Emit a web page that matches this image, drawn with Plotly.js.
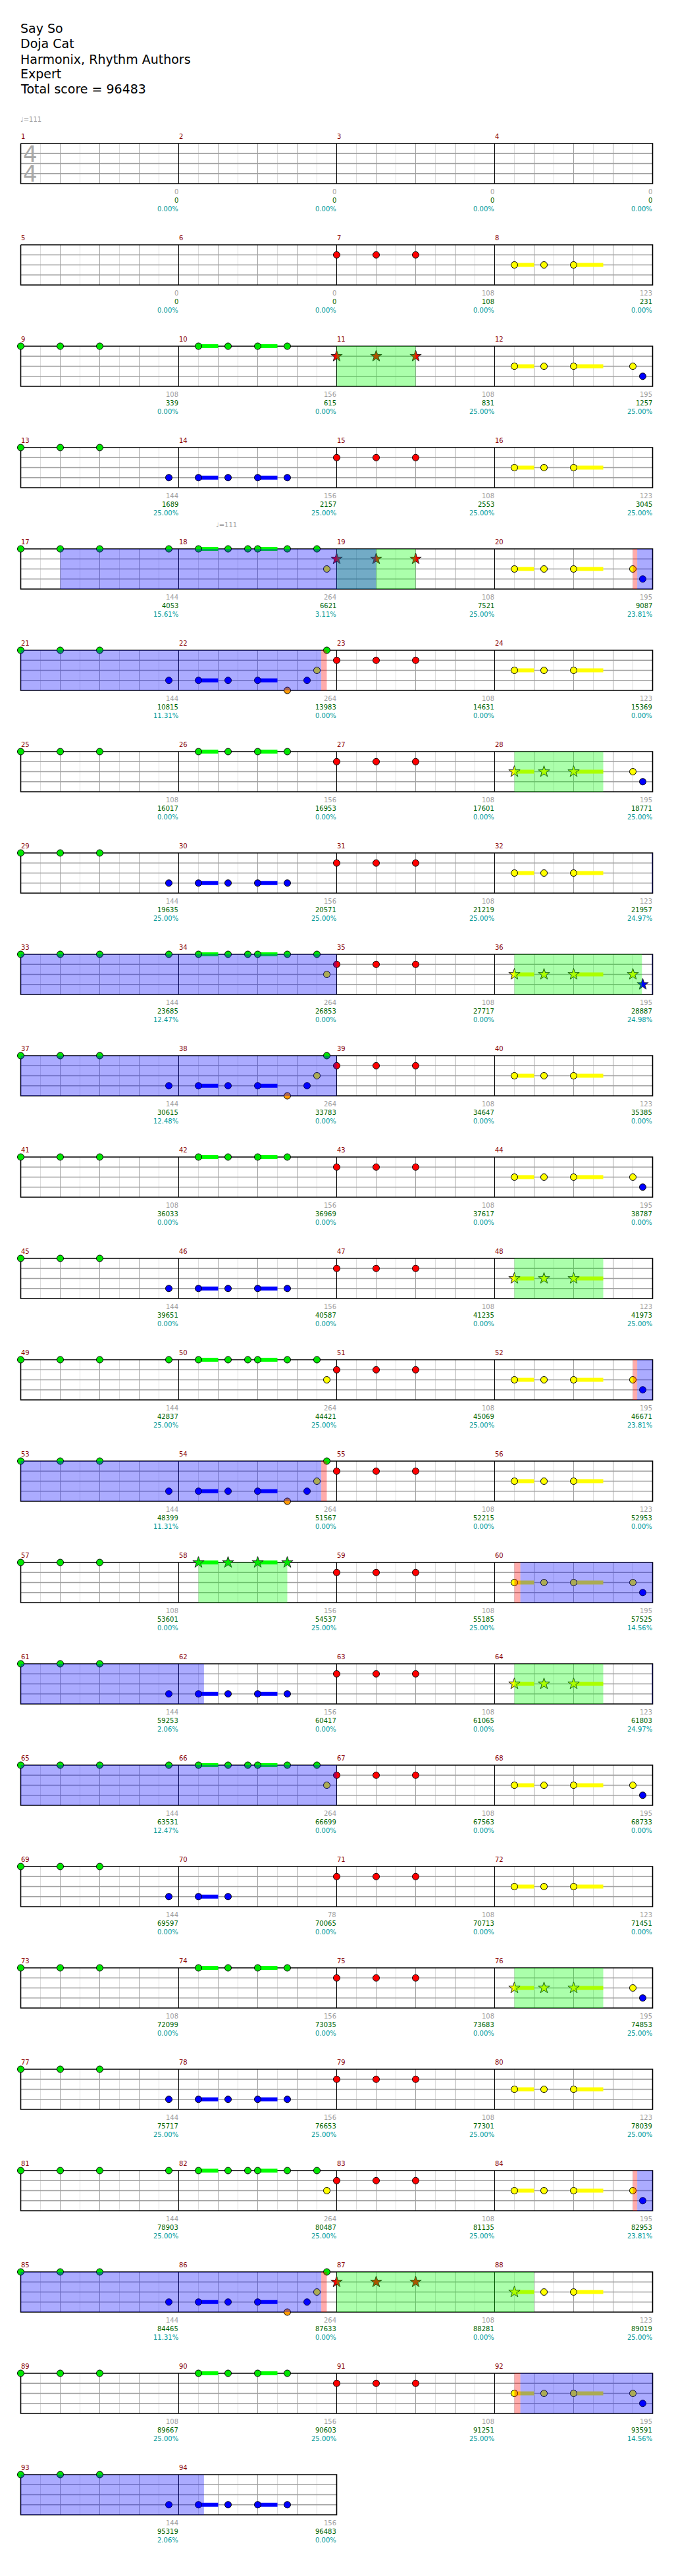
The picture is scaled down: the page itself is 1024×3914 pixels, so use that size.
<!DOCTYPE html>
<html><head><meta charset="utf-8">
<script src="https://cdn.plot.ly/plotly-3.0.1.min.js"></script>
<style>html,body{margin:0;padding:0;background:#fff}#chart{width:1024px;height:3914px}</style>
</head><body><div id="chart"></div>
<script>
// ---------------- DATA ----------------
const titleLines = ["Say So", "Doja Cat", "Harmonix, Rhythm Authors", "Expert", "Total score = 96483"];
const timeSignature = [4, 4];
// tempo marks: [measure, beat, bpm]
const tempoMarks = [[1, 0, 111], [18, 0.96, 111]];

// notes per measure: lane letter (G R Y B O), '*' = star note, beat, optional "-end" sustain end beat
const measureNotes = [
  "", "", "", "",
  "", "", "R0 R1 R2", "Y0.5-1 Y1.25 Y2-2.75",
  "G0 G1 G2", "G0.5-1 G1.25 G2-2.5 G2.75", "R*0 R*1 R*2", "Y0.5-1 Y1.25 Y2-2.75 Y3.5 B3.75",
  "G0 G1 G2 B3.75", "B0.5-1 B1.25 B2-2.5 B2.75", "R0 R1 R2", "Y0.5-1 Y1.25 Y2-2.75",
  "G0 G1 G2 G3.75", "G0.5-1 G1.25 G1.75 G2-2.5 G2.75 G3.5 Y3.75", "R*0 R*1 R*2", "Y0.5-1 Y1.25 Y2-2.75 Y3.5 B3.75",
  "G0 G1 G2 B3.75", "B0.5-1 B1.25 B2-2.5 O2.75 B3.25 Y3.5 G3.75", "R0 R1 R2", "Y0.5-1 Y1.25 Y2-2.75",
  "G0 G1 G2", "G0.5-1 G1.25 G2-2.5 G2.75", "R0 R1 R2", "Y*0.5-1 Y*1.25 Y*2-2.75 Y3.5 B3.75",
  "G0 G1 G2 B3.75", "B0.5-1 B1.25 B2-2.5 B2.75", "R0 R1 R2", "Y0.5-1 Y1.25 Y2-2.75",
  "G0 G1 G2 G3.75", "G0.5-1 G1.25 G1.75 G2-2.5 G2.75 G3.5 Y3.75", "R0 R1 R2", "Y*0.5-1 Y*1.25 Y*2-2.75 Y*3.5 B*3.75",
  "G0 G1 G2 B3.75", "B0.5-1 B1.25 B2-2.5 O2.75 B3.25 Y3.5 G3.75", "R0 R1 R2", "Y0.5-1 Y1.25 Y2-2.75",
  "G0 G1 G2", "G0.5-1 G1.25 G2-2.5 G2.75", "R0 R1 R2", "Y0.5-1 Y1.25 Y2-2.75 Y3.5 B3.75",
  "G0 G1 G2 B3.75", "B0.5-1 B1.25 B2-2.5 B2.75", "R0 R1 R2", "Y*0.5-1 Y*1.25 Y*2-2.75",
  "G0 G1 G2 G3.75", "G0.5-1 G1.25 G1.75 G2-2.5 G2.75 G3.5 Y3.75", "R0 R1 R2", "Y0.5-1 Y1.25 Y2-2.75 Y3.5 B3.75",
  "G0 G1 G2 B3.75", "B0.5-1 B1.25 B2-2.5 O2.75 B3.25 Y3.5 G3.75", "R0 R1 R2", "Y0.5-1 Y1.25 Y2-2.75",
  "G0 G1 G2", "G*0.5-1 G*1.25 G*2-2.5 G*2.75", "R0 R1 R2", "Y0.5-1 Y1.25 Y2-2.75 Y3.5 B3.75",
  "G0 G1 G2 B3.75", "B0.5-1 B1.25 B2-2.5 B2.75", "R0 R1 R2", "Y*0.5-1 Y*1.25 Y*2-2.75",
  "G0 G1 G2 G3.75", "G0.5-1 G1.25 G1.75 G2-2.5 G2.75 G3.5 Y3.75", "R0 R1 R2", "Y0.5-1 Y1.25 Y2-2.75 Y3.5 B3.75",
  "G0 G1 G2 B3.75", "B0.5-1 B1.25", "R0 R1 R2", "Y0.5-1 Y1.25 Y2-2.75",
  "G0 G1 G2", "G0.5-1 G1.25 G2-2.5 G2.75", "R0 R1 R2", "Y*0.5-1 Y*1.25 Y*2-2.75 Y3.5 B3.75",
  "G0 G1 G2 B3.75", "B0.5-1 B1.25 B2-2.5 B2.75", "R0 R1 R2", "Y0.5-1 Y1.25 Y2-2.75",
  "G0 G1 G2 G3.75", "G0.5-1 G1.25 G1.75 G2-2.5 G2.75 G3.5 Y3.75", "R0 R1 R2", "Y0.5-1 Y1.25 Y2-2.75 Y3.5 B3.75",
  "G0 G1 G2 B3.75", "B0.5-1 B1.25 B2-2.5 O2.75 B3.25 Y3.5 G3.75", "R*0 R*1 R*2", "Y*0.5-1 Y1.25 Y2-2.75",
  "G0 G1 G2", "G0.5-1 G1.25 G2-2.5 G2.75", "R0 R1 R2", "Y0.5-1 Y1.25 Y2-2.75 Y3.5 B3.75",
  "G0 G1 G2 B3.75", "B0.5-1 B1.25 B2-2.5 B2.75"
];

const measureScore = [
  0,0,0,0, 0,0,108,123, 108,156,108,195, 144,156,108,123,
  144,264,108,195, 144,264,108,123, 108,156,108,195, 144,156,108,123,
  144,264,108,195, 144,264,108,123, 108,156,108,195, 144,156,108,123,
  144,264,108,195, 144,264,108,123, 108,156,108,195, 144,156,108,123,
  144,264,108,195, 144,78,108,123, 108,156,108,195, 144,156,108,123,
  144,264,108,195, 144,264,108,123, 108,156,108,195, 144,156
];
const cumulativeScore = [
  0,0,0,0, 0,0,108,231, 339,615,831,1257, 1689,2157,2553,3045,
  4053,6621,7521,9087, 10815,13983,14631,15369, 16017,16953,17601,18771, 19635,20571,21219,21957,
  23685,26853,27717,28887, 30615,33783,34647,35385, 36033,36969,37617,38787, 39651,40587,41235,41973,
  42837,44421,45069,46671, 48399,51567,52215,52953, 53601,54537,55185,57525, 59253,60417,61065,61803,
  63531,66699,67563,68733, 69597,70065,70713,71451, 72099,73035,73683,74853, 75717,76653,77301,78039,
  78903,80487,81135,82953, 84465,87633,88281,89019, 89667,90603,91251,93591, 95319,96483
];
const starPercent = [
  0,0,0,0, 0,0,0,0, 0,0,25,25, 25,25,25,25,
  15.61,3.11,25,23.81, 11.31,0,0,0, 0,0,0,25, 25,25,25,24.97,
  12.47,0,0,24.98, 12.48,0,0,0, 0,0,0,0, 0,0,0,25,
  25,25,25,23.81, 11.31,0,0,0, 0,25,25,14.56, 2.06,0,0,24.97,
  12.47,0,0,0, 0,0,0,0, 0,0,0,25, 25,25,25,25,
  25,25,25,23.81, 11.31,0,0,25, 25,25,25,14.56, 2.06,0
];

// star-power phrases (green), activations (blue), activation marks (red): [m0, beat0, m1, beat1]
const spPhrases = [[11,0,11,2],[19,0,19,2],[28,0.5,28,2.75],[36,0.5,36,3.73],[48,0.5,48,2.75],
                   [58,0.5,58,2.75],[64,0.5,64,2.75],[76,0.5,76,2.75],[87,0,88,1]];
const activations = [[17,1,19,1],[20,3.61,22,3.61],[32,3.98,35,0],[36,3.98,39,0],[52,3.61,54,3.61],
                     [60,0.65,62,0.64],[64,3.98,67,0],[84,3.61,86,3.61],[92,0.65,94,0.64]];
const activationMarks = [[20,3.5,20,3.61],[22,3.61,22,3.75],[52,3.5,52,3.61],[54,3.61,54,3.75],
                         [60,0.5,60,0.65],[84,3.5,84,3.61],[86,3.61,86,3.75],[92,0.5,92,0.65]];

// ---------------- GEOMETRY / STYLE ----------------
const W = 1024, H = 3914;
const PX_TOP = 218, LANE_PX = 15.25, ROW_PX = 154, BEAT_PX = 60, LEFT_PX = 31.5;
const ROWU = ROW_PX / LANE_PX;
const MPR = 4, BPM_ = 4;
const nMeasures = measureNotes.length;
const nRows = Math.ceil(nMeasures / MPR);
const off = p => p / LANE_PX; // pixel offset -> lane units
const FONT = 'DejaVu Sans';
const laneFill = ['#00e600', '#ff0000', '#ffff00', '#0000ff', '#ff9900'];
const laneSus = ['#00ff00', '#ff0000', '#ffff00', '#0000ff', '#ff9900'];

function rowOf(m) { return Math.floor((m - 1) / MPR); }
function xOf(m, b) { return ((m - 1) % MPR) * BPM_ + b; }

// ---------------- GRID ----------------
const light = {x: [], y: []}, beatL = {x: [], y: []}, measL = {x: [], y: []}, hor = {x: [], y: []}, border = {x: [], y: []};
function vline(o, x, y0, y1) { o.x.push(x, x, null); o.y.push(y0, y1, null); }
for (let r = 0; r < nRows; r++) {
  const nm = Math.min(MPR, nMeasures - r * MPR);
  const top = r * ROWU, bot = top + 4, right = nm * BPM_;
  for (let m = 0; m < nm; m++) {
    for (let k = 0; k < BPM_; k++) vline(light, m * BPM_ + k + 0.5, top, bot);
    for (let k = 1; k < BPM_; k++) vline(beatL, m * BPM_ + k, top, bot);
    if (m > 0) vline(measL, m * BPM_, top, bot);
  }
  for (let l = 1; l < 4; l++) { hor.x.push(0, right, null); hor.y.push(top + l, top + l, null); }
  border.x.push(0, right, right, 0, 0, null); border.y.push(top, top, bot, bot, top, null);
}
const lineTrace = (o, color, width) => ({type: 'scatter', mode: 'lines', x: o.x, y: o.y,
  line: {color, width}, hoverinfo: 'skip', connectgaps: false});
const traces = [
  lineTrace(light, '#dcdcdc', 1),
  lineTrace(beatL, '#a0a0a0', 1),
  lineTrace(hor, '#a0a0a0', 1.3),
  lineTrace(measL, '#000000', 1),
  lineTrace(border, '#000000', 1.6)
];

// ---------------- NOTES ----------------
const sus = [0,1,2,3,4].map(() => ({x: [], y: []}));
const dots = [0,1,2,3,4].map(() => ({x: [], y: []}));
const stars = [0,1,2,3,4].map(() => ({x: [], y: []}));
measureNotes.forEach((str, i) => {
  const m = i + 1, r = rowOf(m);
  str.split(/\s+/).filter(Boolean).forEach(tok => {
    const t = tok.match(/^([GRYBO])(\*?)([\d.]+)(?:-([\d.]+))?$/);
    const lane = 'GRYBO'.indexOf(t[1]);
    const y = r * ROWU + lane;
    const x = xOf(m, +t[3]);
    if (t[4] !== undefined) { sus[lane].x.push(x, xOf(m, +t[4]), null); sus[lane].y.push(y, y, null); }
    const tgt = t[2] === '*' ? stars : dots;
    tgt[lane].x.push(x); tgt[lane].y.push(y);
  });
});
for (let l = 0; l < 5; l++) {
  traces.push({type: 'scatter', mode: 'lines', x: sus[l].x, y: sus[l].y,
    line: {color: laneSus[l], width: 6}, hoverinfo: 'skip'});
}
for (let l = 0; l < 5; l++) {
  traces.push({type: 'scatter', mode: 'markers', x: dots[l].x, y: dots[l].y,
    marker: {symbol: 'circle', size: 10, color: laneFill[l], line: {color: '#000', width: 1}}, hoverinfo: 'skip'});
  traces.push({type: 'scatter', mode: 'markers', x: stars[l].x, y: stars[l].y,
    marker: {symbol: 'star', size: 13, color: laneFill[l], line: {color: '#222', width: 1}}, hoverinfo: 'skip'});
}

// ---------------- REGIONS (drawn above notes, translucent) ----------------
const shapes = [];
function addSpan(span, fill) {
  const a0 = (span[0] - 1) * BPM_ + span[1], a1 = (span[2] - 1) * BPM_ + span[3];
  const rowBeats = MPR * BPM_;
  for (let r = Math.floor(a0 / rowBeats); r <= Math.floor((a1 - 1e-9) / rowBeats); r++) {
    const s = Math.max(a0, r * rowBeats) - r * rowBeats;
    const e = Math.min(a1, (r + 1) * rowBeats) - r * rowBeats;
    if (e <= s) continue;
    shapes.push({type: 'rect', xref: 'x', yref: 'y', layer: 'above', x0: s, x1: e,
      y0: r * ROWU, y1: r * ROWU + 4, fillcolor: fill, line: {width: 0}});
  }
}
spPhrases.forEach(s => addSpan(s, 'rgba(0,255,0,0.33)'));
activations.forEach(s => addSpan(s, 'rgba(0,0,255,0.33)'));
activationMarks.forEach(s => addSpan(s, 'rgba(255,0,0,0.33)'));

// ---------------- TEXT ----------------
const ann = [];
const txt = (x, y, text, size, color, xanchor, extra) => Object.assign({x, y, xref: 'x', yref: 'y', text,
  showarrow: false, xanchor, yanchor: 'middle', font: {family: FONT, size, color}}, extra || {});
const titleY = [43, 66, 89.5, 112, 135];
titleLines.forEach((t, i) => ann.push(txt(0, off(titleY[i] - PX_TOP), t, 19, '#000', 'left', {xshift: -3})));

for (let i = 0; i < nMeasures; i++) {
  const m = i + 1, r = rowOf(m), top = r * ROWU;
  const xs = xOf(m, 0), xe = xOf(m, BPM_);
  ann.push(txt(xs, top - off(11), String(m), 10, '#8b0000', 'left', {xshift: -2}));
  ann.push(txt(xe, top + 4 + off(12), String(measureScore[i]), 10, '#a0a0a0', 'right', {xshift: 1}));
  ann.push(txt(xe, top + 4 + off(25), String(cumulativeScore[i]), 10, '#006400', 'right', {xshift: 1}));
  ann.push(txt(xe, top + 4 + off(38), starPercent[i].toFixed(2) + '%', 10, '#009999', 'right', {xshift: 1}));
}
tempoMarks.forEach(tm => {
  const r = rowOf(tm[0]);
  ann.push(txt(xOf(tm[0], tm[1]), r * ROWU - off(37), '\u2669=' + tm[2], 10, '#a0a0a0', 'left', {xshift: -3}));
});
// time signature: one stacked text (numerator over denominator)
const big = d => '<span style="font-size:34px">' + d + '</span>';
ann.push(txt(xOf(1, 0), off(31), big(timeSignature[0]) + '<br>' + big(timeSignature[1]), 23, '#a8a8a8', 'left', {xshift: 1}));

const layout = {
  width: W, height: H, margin: {l: 0, r: 0, t: 0, b: 0},
  paper_bgcolor: '#fff', plot_bgcolor: '#fff', showlegend: false, hovermode: false,
  xaxis: {range: [-LEFT_PX / BEAT_PX, (W - LEFT_PX) / BEAT_PX], visible: false, fixedrange: true},
  yaxis: {range: [(H - PX_TOP) / LANE_PX, -PX_TOP / LANE_PX], visible: false, fixedrange: true},
  shapes, annotations: ann
};
Plotly.newPlot('chart', traces, layout, {staticPlot: true, displayModeBar: false});
</script></body></html>
